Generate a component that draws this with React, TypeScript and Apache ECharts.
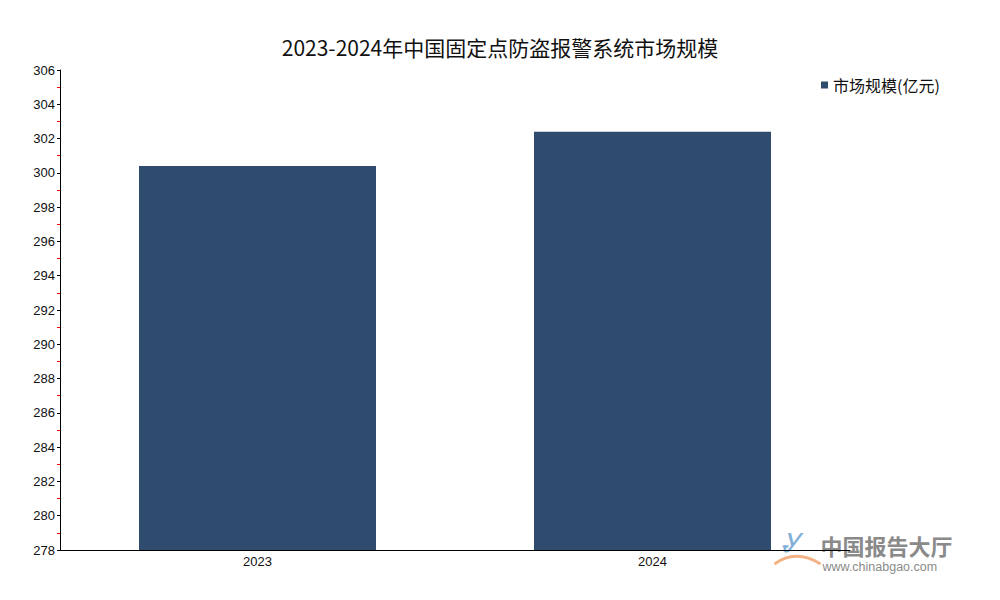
import React, { useEffect, useRef } from "react";
import * as echarts from "echarts";

const categories = ["2023", "2024"];
const marketSize = [300.4, 302.4];
const seriesName = "市场规模(亿元)";
const titleText = "2023-2024年中国固定点防盗报警系统市场规模";

export default function App() {
  const ref = useRef<HTMLDivElement>(null);
  useEffect(() => {
    if (!ref.current) return;
    const chart = echarts.init(ref.current, undefined, { renderer: "svg" });
    const font = '"Liberation Sans", "Noto Sans CJK SC", sans-serif';
    const cjk = '"Noto Sans CJK SC", sans-serif';
    chart.setOption({
      animation: false,
      backgroundColor: "#ffffff",
      textStyle: { fontFamily: font },
      title: {
        text: titleText,
        left: "center",
        top: 31,
        textStyle: { fontSize: 21, fontWeight: "normal", color: "#111", fontFamily: cjk },
      },
      legend: {
        data: [seriesName],
        top: 72,
        left: 816,
        icon: "rect",
        itemWidth: 7,
        itemHeight: 7,
        itemGap: 3,
        textStyle: { fontSize: 16, color: "#111", fontFamily: cjk },
      },
      grid: { left: 60, right: 150, top: 70, bottom: 50 },
      xAxis: {
        type: "category",
        data: categories,
        axisLine: { lineStyle: { color: "#000", width: 1 } },
        axisTick: { show: false },
        axisLabel: { fontSize: 13, color: "#111", margin: 5 },
      },
      yAxis: {
        type: "value",
        min: 278,
        max: 306,
        interval: 2,
        axisLine: { show: true, lineStyle: { color: "#000", width: 1 } },
        axisTick: { show: true, length: 3, lineStyle: { color: "#000" } },
        minorTick: { show: true, splitNumber: 2, length: 3, lineStyle: { color: "#ff0000" } },
        splitLine: { show: false },
        axisLabel: { fontSize: 13, color: "#111", margin: 5 },
      },
      series: [
        {
          name: seriesName,
          type: "bar",
          data: marketSize,
          barWidth: "60%",
          itemStyle: { color: "#2f4b6e" },
        },
      ],
      graphic: [
        {
          type: "group",
          left: 772,
          top: 530,
          children: [
            {
              type: "text",
              x: 6,
              y: 0,
              style: { text: "Ꮍ", fontSize: 26, fill: "#7fb0d8", fontStyle: "italic", fontFamily: font },
            },
            {
              type: "bezierCurve",
              shape: { x1: 0, y1: 34, x2: 46, y2: 34, cpx1: 14, cpy1: 24, cpx2: 30, cpy2: 24 },
              style: { stroke: "#f4b183", lineWidth: 3, fill: "none" },
            },
            {
              type: "text",
              x: 46,
              y: 4,
              style: { text: "中国报告大厅", fontSize: 22, lineHeight: 22, fill: "#8a8a8a", fontFamily: cjk, fontWeight: "bold" },
            },
            {
              type: "text",
              x: 48,
              y: 30,
              style: { text: "www.chinabgao.com", fontSize: 12.5, lineHeight: 13, fill: "#8a8a8a", fontFamily: font },
            },
          ],
        },
      ],
    });
    return () => chart.dispose();
  }, []);
  return (
    <div
      ref={ref}
      style={{ width: 1000, height: 600, position: "absolute", left: 0, top: 0 }}
    />
  );
}
